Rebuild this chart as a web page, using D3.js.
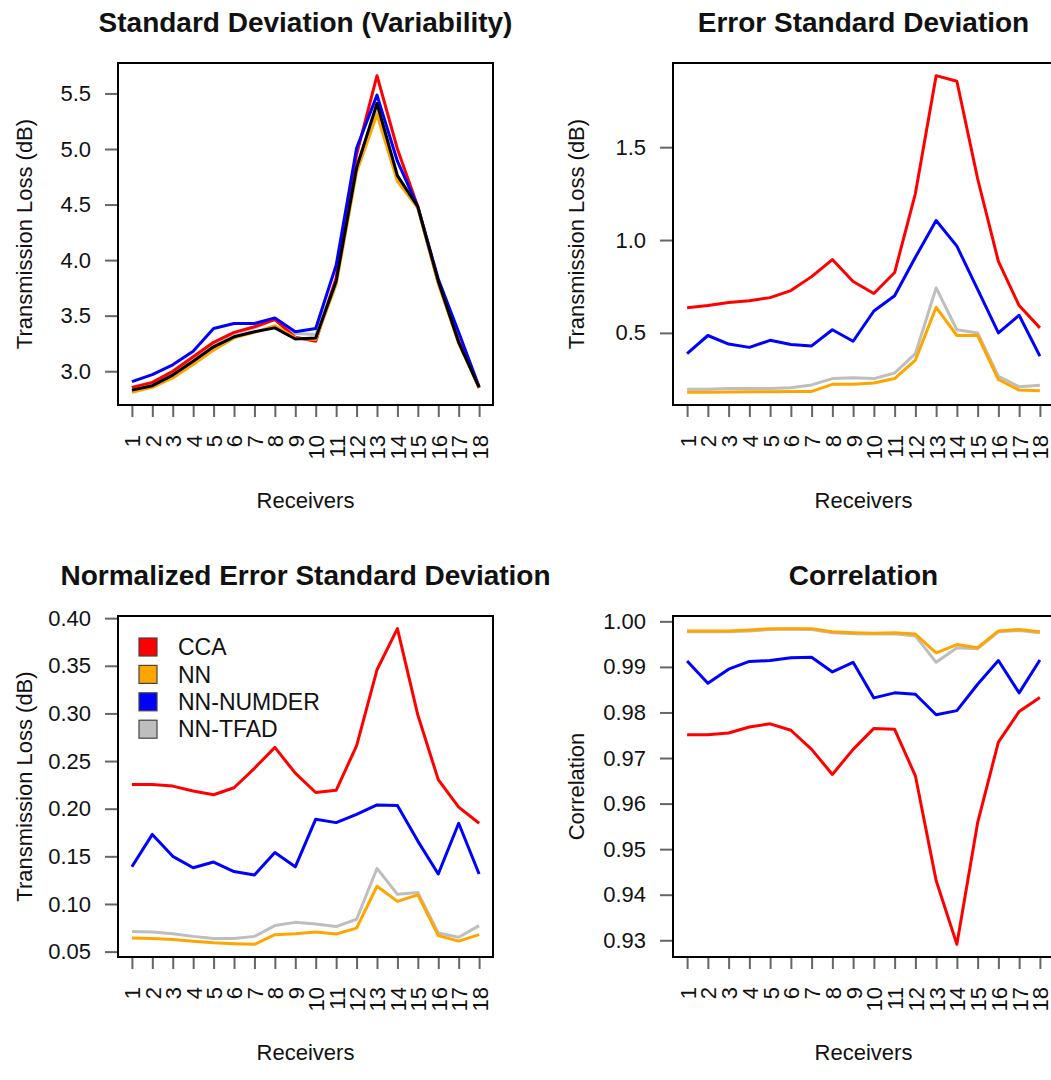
<!DOCTYPE html>
<meta charset="utf-8">
<html>
<head>
<script src="https://d3js.org/d3.v7.min.js"></script>
<style>
  body { margin: 0; background: #fff; }
  svg text { font-family: "Liberation Sans", Arial, Helvetica, sans-serif; fill: #111; }
</style>
</head>
<body>
<div id="chart"></div>
<script>
// receivers on the x axis
const receivers = [1, 2, 3, 4, 5, 6, 7, 8, 9, 10, 11, 12, 13, 14, 15, 16, 17, 18];

// legend / series names
const methods = ["CCA", "NN", "NN-NUMDER", "NN-TFAD"];

// Standard Deviation (Variability)
const sdCCA    = [2.855, 2.90, 3.00, 3.13, 3.26, 3.35, 3.40, 3.465, 3.305, 3.27, 3.84, 4.95, 5.66, 5.00, 4.48, 3.80, 3.27, 2.85];
const sdNN     = [2.81, 2.855, 2.94, 3.06, 3.19, 3.30, 3.35, 3.41, 3.30, 3.285, 3.78, 4.79, 5.31, 4.71, 4.47, 3.79, 3.25, 2.85];
const sdNUMDER = [2.907, 2.97, 3.058, 3.18, 3.384, 3.43, 3.43, 3.48, 3.355, 3.384, 3.953, 5.006, 5.485, 4.89, 4.48, 3.83, 3.35, 2.86];
const sdTFAD   = [2.85, 2.89, 2.99, 3.11, 3.24, 3.34, 3.39, 3.47, 3.34, 3.33, 3.82, 4.85, 5.35, 4.74, 4.47, 3.80, 3.26, 2.86];
const sdTrue   = [2.83, 2.87, 2.965, 3.09, 3.22, 3.31, 3.355, 3.39, 3.29, 3.30, 3.81, 4.83, 5.41, 4.76, 4.48, 3.81, 3.26, 2.855];

// Error Standard Deviation
const esCCA    = [0.635, 0.647, 0.664, 0.673, 0.69, 0.728, 0.803, 0.895, 0.777, 0.712, 0.825, 1.25, 1.885, 1.855, 1.33, 0.885, 0.647, 0.527];
const esNN     = [0.18, 0.18, 0.182, 0.183, 0.183, 0.185, 0.185, 0.223, 0.223, 0.23, 0.254, 0.353, 0.638, 0.486, 0.486, 0.249, 0.192, 0.189];
const esNUMDER = [0.388, 0.486, 0.44, 0.422, 0.46, 0.438, 0.43, 0.517, 0.455, 0.618, 0.70, 0.907, 1.105, 0.967, 0.734, 0.50, 0.595, 0.375];
const esTFAD   = [0.197, 0.197, 0.20, 0.20, 0.20, 0.205, 0.22, 0.254, 0.258, 0.254, 0.284, 0.388, 0.742, 0.517, 0.50, 0.266, 0.21, 0.218];

// Normalized Error Standard Deviation
const neCCA    = [0.2254, 0.2254, 0.2237, 0.2186, 0.2146, 0.222, 0.2424, 0.2644, 0.2373, 0.217, 0.2193, 0.266, 0.3458, 0.389, 0.2983, 0.2305, 0.2017, 0.1847];
const neNN     = [0.0644, 0.0637, 0.0627, 0.061, 0.0593, 0.0583, 0.0576, 0.0678, 0.0688, 0.0705, 0.0685, 0.0746, 0.1186, 0.1027, 0.1095, 0.0668, 0.061, 0.0678];
const neNUMDER = [0.139, 0.173, 0.15, 0.138, 0.144, 0.134, 0.1305, 0.154, 0.139, 0.189, 0.1854, 0.194, 0.204, 0.2034, 0.166, 0.1315, 0.1847, 0.1315];
const neTFAD   = [0.0712, 0.0705, 0.0688, 0.066, 0.0637, 0.0637, 0.066, 0.0773, 0.0807, 0.079, 0.0763, 0.084, 0.1373, 0.1102, 0.112, 0.0695, 0.065, 0.0773];

// Correlation
const coCCA    = [0.9751, 0.9751, 0.9755, 0.9768, 0.9775, 0.9761, 0.9719, 0.9664, 0.9719, 0.9765, 0.9763, 0.9661, 0.9431, 0.9291, 0.9558, 0.9735, 0.9802, 0.9833];
const coNN     = [0.9979, 0.9979, 0.9979, 0.9981, 0.9984, 0.9984, 0.9984, 0.9977, 0.9975, 0.9974, 0.9975, 0.9972, 0.9931, 0.9949, 0.9942, 0.9979, 0.9982, 0.9977];
const coNUMDER = [0.9913, 0.9864, 0.9895, 0.9912, 0.9914, 0.992, 0.9921, 0.9889, 0.991, 0.9832, 0.9843, 0.984, 0.9795, 0.9804, 0.9862, 0.9914, 0.9843, 0.9915];
const coTFAD   = [0.9977, 0.9977, 0.9977, 0.9979, 0.9982, 0.9983, 0.9982, 0.9975, 0.9973, 0.9972, 0.9973, 0.9968, 0.991, 0.9942, 0.994, 0.9977, 0.998, 0.9975];

// y tick labels
const ticksSD = ["3.0", "3.5", "4.0", "4.5", "5.0", "5.5"];
const ticksES = ["0.5", "1.0", "1.5"];
const ticksNE = ["0.05", "0.10", "0.15", "0.20", "0.25", "0.30", "0.35", "0.40"];
const ticksCO = ["0.93", "0.94", "0.95", "0.96", "0.97", "0.98", "0.99", "1.00"];

const colors = { "CCA": "#ff0000", "NN": "#ffa500", "NN-NUMDER": "#0000ff", "NN-TFAD": "#bebebe", "true": "#000000" };

const panels = [
  { title: "Standard Deviation (Variability)", ylab: "Transmission Loss (dB)", box: [118, 63, 493, 405], ylabX: 32,
    ticks: ticksSD, series: [["NN-TFAD", sdTFAD], ["CCA", sdCCA], ["NN-NUMDER", sdNUMDER], ["NN", sdNN], ["true", sdTrue]] },
  { title: "Error Standard Deviation", ylab: "Transmission Loss (dB)", box: [673, 63, 1054, 405], ylabX: 584,
    ticks: ticksES, series: [["CCA", esCCA], ["NN-NUMDER", esNUMDER], ["NN-TFAD", esTFAD], ["NN", esNN]] },
  { title: "Normalized Error Standard Deviation", ylab: "Transmission Loss (dB)", box: [118, 616, 493, 957], ylabX: 32,
    ticks: ticksNE, series: [["CCA", neCCA], ["NN-NUMDER", neNUMDER], ["NN-TFAD", neTFAD], ["NN", neNN]], legend: true },
  { title: "Correlation", ylab: "Correlation", box: [673, 616, 1054, 957], ylabX: 584,
    ticks: ticksCO, series: [["CCA", coCCA], ["NN-NUMDER", coNUMDER], ["NN-TFAD", coTFAD], ["NN", coNN]] }
];

const svg = d3.select("#chart").append("svg")
  .attr("width", 1051)
  .attr("height", 1080)
  .style("display", "block");

svg.append("rect").attr("width", 1051).attr("height", 1080).attr("fill", "#fff");

// R style range with 4% padding
function padded(lo, hi) {
  const p = (hi - lo) * 0.04;
  return [lo - p, hi + p];
}

panels.forEach(p => {
  const [x0, y0, x1, y1] = p.box;
  const g = svg.append("g");

  const x = d3.scaleLinear().domain(padded(1, 18)).range([x0, x1]);
  const allVals = p.series.flatMap(s => s[1]);
  const y = d3.scaleLinear().domain(padded(d3.min(allVals), d3.max(allVals))).range([y1, y0]);

  // lines
  const line = d3.line().x((d, i) => x(receivers[i])).y(d => y(d));
  p.series.forEach(([name, vals]) => {
    g.append("path")
      .datum(vals)
      .attr("d", line)
      .attr("fill", "none")
      .attr("stroke", colors[name])
      .attr("stroke-width", 3)
      .attr("stroke-linejoin", "round");
  });

  // y axis
  const yAxis = g.append("g")
    .attr("transform", `translate(${x0},0)`)
    .call(d3.axisLeft(y)
      .tickValues(p.ticks.map(Number))
      .tickFormat((d, i) => p.ticks[i])
      .tickSize(13)
      .tickPadding(14));
  yAxis.select(".domain").remove();
  yAxis.selectAll(".tick line").attr("stroke", "#666").attr("stroke-width", 2);
  yAxis.selectAll(".tick text").style("font-size", "22px").attr("fill", "#111");

  // x axis
  const xAxis = g.append("g")
    .attr("transform", `translate(0,${y1})`)
    .call(d3.axisBottom(x).tickValues(receivers).tickFormat(d3.format("d")).tickSize(12));
  xAxis.select(".domain").remove();
  xAxis.selectAll(".tick line").attr("stroke", "#666").attr("stroke-width", 2);
  xAxis.selectAll(".tick text")
    .style("font-size", "22px")
    .attr("fill", "#111")
    .attr("transform", "rotate(-90)")
    .attr("x", -30)
    .attr("y", 0)
    .attr("dy", "0.36em")
    .attr("text-anchor", "end");

  // box
  g.append("rect")
    .attr("x", x0).attr("y", y0)
    .attr("width", x1 - x0).attr("height", y1 - y0)
    .attr("fill", "none")
    .attr("stroke", "#000")
    .attr("stroke-width", 2);

  // title
  g.append("text")
    .attr("x", (x0 + x1) / 2)
    .attr("y", y0 - 31)
    .attr("text-anchor", "middle")
    .style("font-size", "28px")
    .style("font-weight", "bold")
    .text(p.title);

  // axis labels
  g.append("text")
    .attr("x", (x0 + x1) / 2)
    .attr("y", y1 + 103)
    .attr("text-anchor", "middle")
    .style("font-size", "22px")
    .text("Receivers");

  g.append("text")
    .attr("transform", `translate(${p.ylabX},${(y0 + y1) / 2}) rotate(-90)`)
    .attr("text-anchor", "middle")
    .style("font-size", "22px")
    .text(p.ylab);

  // legend
  if (p.legend) {
    const leg = g.selectAll(".leg")
      .data(methods)
      .enter().append("g")
      .attr("transform", (d, i) => `translate(${x0 + 21},${y0 + 31 + i * 27.4})`);
    leg.append("rect")
      .attr("x", 0).attr("y", -9)
      .attr("width", 18).attr("height", 18)
      .attr("fill", d => colors[d])
      .attr("stroke", "#444")
      .attr("stroke-width", 1.2);
    leg.append("text")
      .attr("x", 39)
      .attr("y", 0)
      .attr("dy", "0.36em")
      .style("font-size", "23px")
      .text(d => d);
  }
});
</script>
</body>
</html>
